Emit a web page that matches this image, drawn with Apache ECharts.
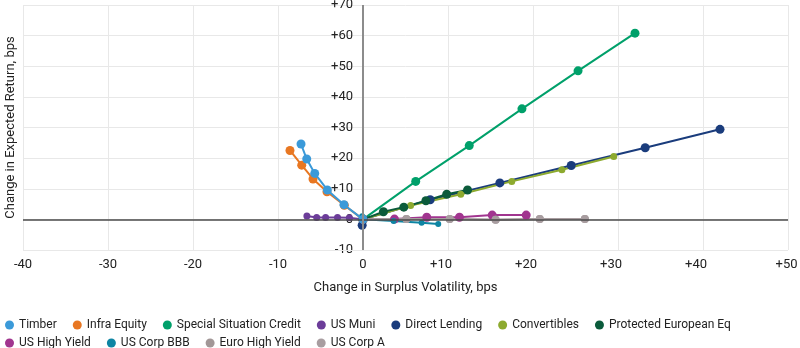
<!DOCTYPE html>
<html>
<head>
<meta charset="utf-8">
<script src="https://cdn.jsdelivr.net/npm/echarts@6/dist/echarts.min.js"></script>
<style>
html,body{margin:0;padding:0;background:#fff;}
#chart{width:800px;height:348px;}
</style>
</head>
<body>
<div id="chart"></div>
<script>
// ---- data (x: change in surplus volatility, y: change in expected return, bps) ----
const seriesNames = ['Timber','Infra Equity','Special Situation Credit','US Muni','Direct Lending','Convertibles','Protected European Eq','US High Yield','US Corp BBB','Euro High Yield','US Corp A'];
const timber = [[0,0],[-2.24,4.8],[-4.2,9.6],[-5.68,15.0],[-6.62,19.7],[-7.29,24.6]];
const infraEquity = [[0,0],[-2.2,4.6],[-4.24,9.0],[-5.88,13.2],[-7.21,17.7],[-8.59,22.5]];
const specialSituationCredit = [[0,0],[6.2,12.4],[12.5,24.1],[18.7,36.1],[25.3,48.5],[32.0,60.8]];
const usMuni = [[0,0],[-1.6,0.5],[-3.0,0.6],[-4.4,0.6],[-5.45,0.6],[-6.6,1.1]];
const directLending = [[-0.1,-1.9],[0,0],[7.9,6.4],[16.1,11.9],[24.5,17.6],[33.2,23.4],[42.0,29.4]];
const convertibles = [[0,0],[5.6,4.5],[11.5,8.2],[17.5,12.4],[23.4,16.2],[29.5,20.5]];
const protectedEuropeanEq = [[0,0],[2.4,2.5],[4.8,4.0],[7.4,6.1],[9.85,8.2],[12.3,9.6]];
const usHighYield = [[0,0],[3.7,0.1],[7.5,0.7],[11.35,0.7],[15.2,1.4],[19.2,1.4]];
const usCorpBBB = [[-0.1,1.0],[0,0],[3.6,-0.5],[6.9,-1.1],[8.85,-1.5]];
const euroHighYield = [[0,0],[5.1,0.1],[10.2,0.1],[15.6,-0.1],[20.8,0.1],[26.1,0.1]];
const usCorpA = [[0,0],[5.1,0.1],[10.2,0.1],[15.6,-0.1],[20.8,0.1],[26.1,0.1]];

const xTickValues = [-40,-30,-20,-10,0,10,20,30,40,50];
const xTickLabels = ['-40','-30','-20','-10','0','+10','+20','+30','+40','+50'];
const yTickValues = [-10,0,10,20,30,40,50,60,70];
const yTickLabels = ['-10','0','+10','+20','+30','+40','+50','+60','+70'];

const xAxisTitle = 'Change in Surplus Volatility, bps';
const yAxisTitle = 'Change in Expected Return, bps';

// ---- styling ----
const colors = ['#3B9AD9','#E87722','#00A06A','#6C3D99','#1A3C7C','#8DAA2F','#0B5B3B','#A1358F','#0E85A3','#A29797','#A89DA0'];
const symbolSizes = [9,9,9,7,9,7,9,9,6,8,8];
const zs = [3,2,2,2,2,2,2,2,2,2,2];
const dataSets = [timber,infraEquity,specialSituationCredit,usMuni,directLending,convertibles,protectedEuropeanEq,usHighYield,usCorpBBB,euroHighYield,usCorpA];
const FONT = 'Roboto';

const GRID_LEFT = 23, GRID_RIGHT = 12, GRID_TOP = 5, GRID_BOTTOM = 98;
const X_MIN = -40, X_MAX = 50, Y_MIN = -10, Y_MAX = 70, Y_STEP = 10;
const plotWidth = 800 - GRID_LEFT - GRID_RIGHT;
const plotHeight = 348 - GRID_TOP - GRID_BOTTOM;
// overlay grid carrying the vertical-axis tick labels at x = 0
const zeroLeft = GRID_LEFT + plotWidth * (0 - X_MIN) / (X_MAX - X_MIN);
const stepPx = plotHeight * Y_STEP / (Y_MAX - Y_MIN);

const series = seriesNames.map((name, i) => {
  const s = {
    name: name,
    type: 'line',
    xAxisIndex: 0, yAxisIndex: 0,
    data: dataSets[i],
    symbol: 'circle',
    symbolSize: symbolSizes[i],
    showSymbol: true,
    z: zs[i],
    itemStyle: { color: colors[i] },
    lineStyle: { color: colors[i], width: 2 },
    emphasis: { disabled: true },
    animation: false
  };
  if (i === 1) {
    s.markLine = {
      silent: true,
      symbol: 'none',
      label: { show: false },
      animation: false,
      data: [
        { yAxis: 0, lineStyle: { color: '#4a4a4a', width: 1.5, type: 'solid' } },
        { xAxis: 0, lineStyle: { color: '#8c8c8c', width: 2, type: 'solid' } }
      ]
    };
  }
  return s;
});

const chart = echarts.init(document.getElementById('chart'), null, { renderer: 'canvas' });
chart.setOption({
  backgroundColor: '#ffffff',
  animation: false,
  grid: [
    { left: GRID_LEFT, right: GRID_RIGHT, top: GRID_TOP, bottom: GRID_BOTTOM, containLabel: false, outerBoundsMode: 'none' },
    { left: zeroLeft, right: GRID_RIGHT, top: GRID_TOP, bottom: GRID_BOTTOM - stepPx, containLabel: false, outerBoundsMode: 'none' }
  ],
  legend: [
    {
      data: seriesNames.slice(0, 7),
      left: 0, top: 314,
      icon: 'circle', itemWidth: 9, itemHeight: 9, itemGap: 16,
      textStyle: { fontFamily: FONT, fontSize: 12, color: '#222' },
      selectedMode: false
    },
    {
      data: seriesNames.slice(7),
      left: 0, top: 332,
      icon: 'circle', itemWidth: 9, itemHeight: 9, itemGap: 16,
      textStyle: { fontFamily: FONT, fontSize: 12, color: '#222' },
      selectedMode: false
    }
  ],
  // bottom tick label of the vertical axis (the library drops it next to the x-axis "0")
  graphic: [
    {
      type: 'text',
      x: zeroLeft - 10,
      y: GRID_TOP + plotHeight,
      silent: true,
      style: {
        text: yTickLabels[0],
        align: 'right',
        verticalAlign: 'middle',
        fontFamily: FONT,
        fontSize: 13,
        fill: '#222'
      }
    }
  ],
  xAxis: [
    {
      type: 'value', gridIndex: 0,
      min: X_MIN, max: X_MAX, interval: 10,
      name: xAxisTitle,
      nameLocation: 'middle',
      nameGap: 31,
      nameTextStyle: { fontFamily: FONT, fontSize: 13, color: '#222' },
      axisLine: { show: false, onZero: false },
      axisTick: { show: false },
      splitLine: { show: true, lineStyle: { color: '#e8e8e8', width: 1 } },
      axisLabel: {
        margin: 8,
        showMinLabel: true, showMaxLabel: true,
        fontFamily: FONT, fontSize: 13, color: '#222',
        formatter: function (v) {
          const idx = xTickValues.indexOf(v);
          const t = idx >= 0 ? xTickLabels[idx] : String(v);
          if (v > 0 && v < 50) return '{s|' + t + '}';
          if (v === 50) return '{e|' + t + '}';
          return t;
        },
        rich: {
          s: { fontFamily: FONT, fontSize: 13, color: '#222', padding: [0, 14, 0, 0] },
          e: { fontFamily: FONT, fontSize: 13, color: '#222', padding: [0, 3, 0, 0] }
        }
      }
    },
    {
      type: 'value', gridIndex: 1, show: false,
      min: 0, max: X_MAX
    }
  ],
  yAxis: [
    {
      type: 'value', gridIndex: 0,
      min: Y_MIN, max: Y_MAX, interval: Y_STEP,
      name: yAxisTitle,
      nameLocation: 'middle',
      nameGap: 6,
      nameTextStyle: { fontFamily: FONT, fontSize: 13, color: '#222' },
      axisLine: { show: false, onZero: false },
      axisTick: { show: false },
      axisLabel: { show: false },
      splitLine: { show: true, lineStyle: { color: '#e8e8e8', width: 1 } }
    },
    {
      type: 'value', gridIndex: 1,
      min: Y_MIN - Y_STEP, max: Y_MAX, interval: Y_STEP,
      axisLine: { show: false, onZero: false },
      axisTick: { show: false },
      splitLine: { show: false },
      axisLabel: {
        margin: 10,
        showMaxLabel: true,
        fontFamily: FONT, fontSize: 13, color: '#222',
        formatter: function (v) {
          if (v === Y_MIN) return '';
          const idx = yTickValues.indexOf(v);
          return idx >= 0 ? yTickLabels[idx] : '';
        }
      }
    }
  ],
  series: series
});
</script>
</body>
</html>
